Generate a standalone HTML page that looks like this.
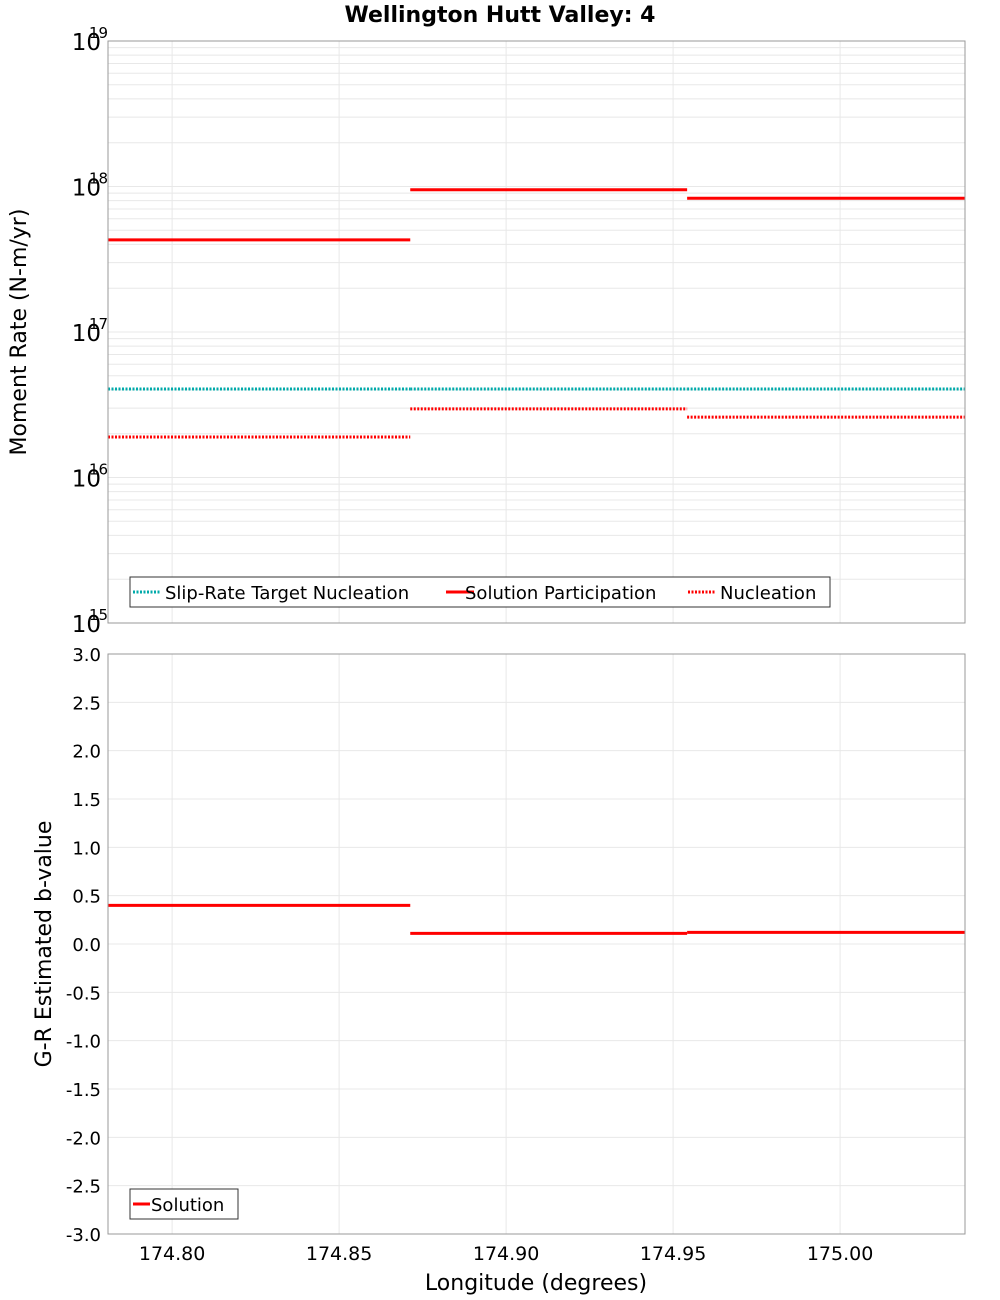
<!DOCTYPE html>
<html><head><meta charset="utf-8"><style>
body{margin:0;background:#fff;}
svg{display:block;font-family:"DejaVu Sans","Liberation Sans",sans-serif;}
</style></head><body>
<svg id="chart" width="1000" height="1300"></svg>
<script>
const xBounds=[174.7808,175.0374];
const segStarts=[174.7808,174.8713,174.9542];
const segEnds=[174.8713,174.9542,175.0374];
const participation=[4.3e17,9.5e17,8.3e17];
const nucleation=[1.9e16,2.96e16,2.6e16];
const targetNucleation=[4.06e16,4.06e16,4.06e16];
const bValues=[0.40,0.11,0.12];
const xTicks=[174.80,174.85,174.90,174.95,175.00];
const xTickLabels=["174.80","174.85","174.90","174.95","175.00"];
const logTicks=[15,16,17,18,19];
const bTicks=[3.0,2.5,2.0,1.5,1.0,0.5,0.0,-0.5,-1.0,-1.5,-2.0,-2.5,-3.0];

const NS="http://www.w3.org/2000/svg";
const svg=document.getElementById('chart');
function mk(tag,attrs,parent){const e=document.createElementNS(NS,tag);for(const k in attrs)e.setAttribute(k,attrs[k]);(parent||svg).appendChild(e);return e;}
const L=108,R=965;
const T1=41,B1=623,T2=654,B2=1234;
function xs(v){return L+(v-xBounds[0])/(xBounds[1]-xBounds[0])*(R-L);}
function y1(v){const lg=Math.log10(v);return B1-(lg-15)/4*(B1-T1);}
function y2(v){return B2-(v+3)/6*(B2-T2);}

const title=mk('text',{x:500,y:22,'text-anchor':'middle','font-size':22,'font-weight':'bold',fill:'#000'});
title.textContent='Wellington Hutt Valley: 4';



const g1=mk('g',{});


for(let d=15;d<19;d++){for(let m=1;m<10;m++){const y=y1(m*Math.pow(10,d));
 const ln=mk('line',{x1:L,x2:R,y1:y,y2:y,stroke:'#e8e8e8','stroke-width':1},g1);
 }}
const g2=mk('g',{});


bTicks.forEach(v=>{const y=y2(v);const ln=mk('line',{x1:L,x2:R,y1:y,y2:y,stroke:'#e8e8e8'},g2);
 });
xTicks.forEach(v=>{const x=xs(v);
 [[T1,B1,g1],[T2,B2,g2]].forEach(([a,b,g])=>{const ln=mk('line',{x1:x,x2:x,y1:a,y2:b,stroke:'#e8e8e8'},g);
 });});

for(let i=0;i<segStarts.length;i++){
 const x1=xs(segStarts[i]),x2=xs(segEnds[i]);
 let l=mk('line',{x1:x1,x2:x2,y1:y1(targetNucleation[i]),y2:y1(targetNucleation[i]),stroke:'#00aaaa','stroke-width':3,'stroke-dasharray':'2,1.5'},g1);
 
 l=mk('line',{x1:x1,x2:x2,y1:y1(nucleation[i]),y2:y1(nucleation[i]),stroke:'#ff0000','stroke-width':3,'stroke-dasharray':'2,1.5'},g1);
 
 l=mk('line',{x1:x1,x2:x2,y1:y1(participation[i]),y2:y1(participation[i]),stroke:'#ff0000','stroke-width':3},g1);
 
 l=mk('line',{x1:x1,x2:x2,y1:y2(bValues[i]),y2:y2(bValues[i]),stroke:'#ff0000','stroke-width':3},g2);
 
}
[[T1,B1,g1],[T2,B2,g2]].forEach(([a,b,g])=>{const r=mk('rect',{x:L,y:a,width:R-L,height:b-a,fill:'none',stroke:'#999'},g);
 });

logTicks.forEach(d=>{const y=y1(Math.pow(10,d));
 const t=mk('text',{x:101,y:y+9,'text-anchor':'end','font-size':23,fill:'#000'});
 t.textContent='10';
 
 const s=mk('text',{x:89,y:y-3,'font-size':15,fill:'#000'});
 s.textContent=String(d);
 });
bTicks.forEach(v=>{const t=mk('text',{x:101,y:y2(v)+7,'text-anchor':'end','font-size':18,fill:'#000'});
 t.textContent=v.toFixed(1);
 });
xTicks.forEach((v,i)=>{const t=mk('text',{x:xs(v),y:1260,'text-anchor':'middle','font-size':19,fill:'#000'});
 t.textContent=xTickLabels[i];
 });

let at=mk('text',{x:0,y:0,'text-anchor':'middle','font-size':22,fill:'#000',transform:'translate(26,332) rotate(-90)'});
at.textContent='Moment Rate (N-m/yr)';

at=mk('text',{x:0,y:0,'text-anchor':'middle','font-size':22,fill:'#000',transform:'translate(51,944) rotate(-90)'});
at.textContent='G-R Estimated b-value';

at=mk('text',{x:536,y:1290,'text-anchor':'middle','font-size':22,fill:'#000'});
at.textContent='Longitude (degrees)';


const lg=mk('g',{});

mk('rect',{x:130,y:577,width:700,height:30,fill:'#fff',stroke:'#333'},lg);
const entries=[['Slip-Rate Target Nucleation','#00aaaa','2,1.5',133,165],['Solution Participation','#ff0000','',446,465],['Nucleation','#ff0000','2,1.5',688,720]];
entries.forEach(e=>{const ln=mk('line',{x1:e[3],x2:e[3]+28,y1:592,y2:592,stroke:e[1],'stroke-width':3,'stroke-dasharray':e[2]||'none'},lg);
 
 const t=mk('text',{x:e[4],y:599,'font-size':18,fill:'#000'},lg);t.textContent=e[0];
 });
const lg2=mk('g',{});

mk('rect',{x:130,y:1189,width:108,height:30,fill:'#fff',stroke:'#333'},lg2);
let ln=mk('line',{x1:133,x2:150,y1:1204,y2:1204,stroke:'#ff0000','stroke-width':3},lg2);

let t=mk('text',{x:151,y:1211,'font-size':18,fill:'#000'},lg2);t.textContent='Solution';

</script>
</body></html>
